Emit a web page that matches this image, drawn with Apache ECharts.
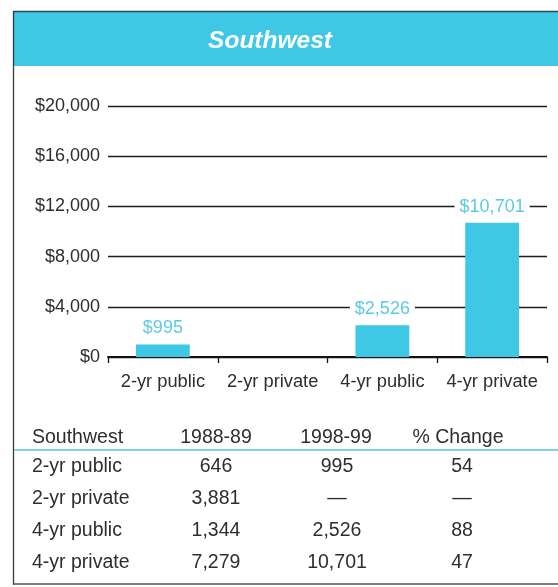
<!DOCTYPE html>
<html>
<head>
<meta charset="utf-8">
<script src="https://cdn.jsdelivr.net/npm/echarts@6/dist/echarts.min.js"></script>
<style>
html,body{margin:0;padding:0;background:#fff;}
#chart{width:558px;height:587px;}
</style>
</head>
<body>
<div id="chart"></div>
<script>
// ---- data ----
var titleText = 'Southwest';
var categories = ['2-yr public', '2-yr private', '4-yr public', '4-yr private'];
var tuition9899 = [995, null, 2526, 10701];
var yTicks = [0, 4000, 8000, 12000, 16000, 20000];

var tableHeaders = ['Southwest', '1988-89', '1998-99', '% Change'];
var tableRowNames = ['2-yr public', '2-yr private', '4-yr public', '4-yr private'];
var col1988 = ['646', '3,881', '1,344', '7,279'];
var col1998 = ['995', '\u2014', '2,526', '10,701'];
var colPct = ['54', '\u2014', '88', '47'];

// ---- styles ----
var FONT = '"Liberation Sans", Arial, Helvetica, sans-serif';
var CYAN = '#3fc8e6';
var LABEL_CYAN = '#5ccbe2';
var TEXT = '#2e2e2e';

function money(v) {
  return '$' + Number(v).toLocaleString('en-US');
}

var chart = echarts.init(document.getElementById('chart'), null, {renderer: 'canvas'});

var graphics = [];
// frame
graphics.push({type: 'rect', z: 0, shape: {x: 13, y: 11, width: 560, height: 55}, style: {fill: CYAN}});
graphics.push({type: 'line', z: 5, shape: {x1: 13, y1: 11.5, x2: 558, y2: 11.5}, style: {stroke: '#2f4a4e', lineWidth: 1.5}});
graphics.push({type: 'line', z: 5, shape: {x1: 13.5, y1: 11, x2: 13.5, y2: 585}, style: {stroke: '#3a3a3a', lineWidth: 1.3}});
graphics.push({type: 'line', z: 5, shape: {x1: 13, y1: 584, x2: 558, y2: 584}, style: {stroke: '#555', lineWidth: 1.5}});
// title
graphics.push({type: 'text', z: 6, x: 270, y: 41, style: {
  text: titleText, fill: '#fff', font: 'italic bold 24.5px ' + FONT,
  textAlign: 'center', textVerticalAlign: 'middle'
}});
// table
var colX = [32, 216, 336, 458];
var valX = [32, 216, 337, 462];
tableHeaders.forEach(function (h, i) {
  graphics.push({type: 'text', z: 6, x: colX[i], y: 437.5, style: {
    text: h, fill: TEXT, font: '19.5px ' + FONT,
    textAlign: i === 0 ? 'left' : 'center', textVerticalAlign: 'middle'
  }});
});
graphics.push({type: 'line', z: 5, shape: {x1: 14, y1: 450, x2: 558, y2: 450}, style: {stroke: '#55c4dc', lineWidth: 1.5}});
var rowY = [467, 499, 531, 563];
tableRowNames.forEach(function (name, r) {
  var cells = [name, col1988[r], col1998[r], colPct[r]];
  cells.forEach(function (c, i) {
    graphics.push({type: 'text', z: 6, x: valX[i], y: rowY[r], style: {
      text: c, fill: TEXT, font: '19.5px ' + FONT,
      textAlign: i === 0 ? 'left' : 'center', textVerticalAlign: 'middle'
    }});
  });
});

var option = {
  animation: false,
  backgroundColor: '#fff',
  textStyle: {fontFamily: FONT},
  grid: {left: 108, right: 11, top: 106, bottom: 230, containLabel: false},
  xAxis: {
    type: 'category',
    data: categories,
    boundaryGap: true,
    axisLine: {show: true, lineStyle: {color: '#111', width: 2}},
    axisTick: {show: true, length: 6, lineStyle: {color: '#111', width: 1.3}},
    axisLabel: {color: TEXT, fontSize: 18.3, fontFamily: FONT, margin: 16, interval: 0}
  },
  yAxis: {
    type: 'value',
    min: yTicks[0],
    max: yTicks[yTicks.length - 1],
    interval: yTicks[1] - yTicks[0],
    axisLine: {show: false},
    axisTick: {show: false},
    axisLabel: {color: TEXT, fontSize: 18, fontFamily: FONT, margin: 8, formatter: money},
    splitLine: {show: true, lineStyle: {color: '#1e1e1e', width: 1.3}}
  },
  series: [{
    type: 'bar',
    data: tuition9899,
    barWidth: '49%',
    itemStyle: {color: CYAN},
    label: {
      show: true,
      position: 'top',
      distance: 6,
      color: LABEL_CYAN,
      fontSize: 18,
      fontFamily: FONT,
      backgroundColor: '#fff',
      padding: [1, 5],
      formatter: function (p) { return money(p.value); }
    }
  }],
  graphic: graphics
};
chart.setOption(option);
</script>
</body>
</html>
